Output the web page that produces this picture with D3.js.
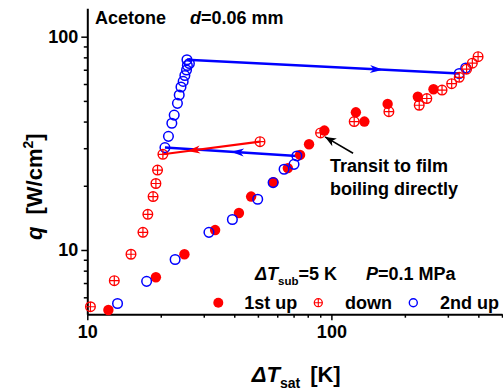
<!DOCTYPE html>
<html>
<head>
<meta charset="utf-8">
<script src="https://cdn.jsdelivr.net/npm/d3@7"></script>
<style>
  html, body { margin: 0; padding: 0; background: #fff; }
  svg { display: block; font-family: 'Liberation Sans', Arial, sans-serif; font-weight: bold; }
</style>
</head>
<body>
<div id="chart"></div>
<script>
// 1st up (filled red)
const firstUpDT = [12.2, 19.1, 25.0, 33.4, 41.8, 46.9, 57.9, 66.3, 74.4, 81.0, 93.6, 126, 136.5, 170, 226, 262];
const firstUpQ  = [5.23, 7.45, 9.55, 12.4, 14.9, 17.8, 20.8, 24.2, 27.9, 31.3, 36.3, 44.2, 40.0, 48.4, 52.3, 56.7];

// down (red crossed circles), in measured order
const downDT = [399, 378, 358, 334, 311, 284, 246, 229, 172, 124, 90.3, 51.0, 20.4, 19.4, 19.1, 18.6, 17.7, 16.9, 15.1, 12.9, 10.3];
const downQ  = [80.6, 75.1, 70.4, 64.5, 60.2, 56.2, 51.3, 47.7, 44.5, 40.0, 35.4, 32.2, 28.1, 23.7, 20.5, 17.8, 14.7, 12.1, 9.55, 7.18, 5.42];

// 2nd up (blue open circles)
const secondUpDT = [13.3, 17.5, 22.9, 31.5, 39.3, 49.9, 57.7, 64.0, 70.3, 72.2, 20.8, 21.5, 22.2, 22.7, 23.4, 23.8, 24.2, 24.7, 25.1, 25.5, 25.7, 26.2, 25.6, 334, 355];
const secondUpQ  = [5.61, 7.13, 9.02, 12.1, 13.9, 17.3, 20.7, 23.9, 25.2, 27.6, 30.2, 34.1, 39.3, 42.9, 48.7, 53.3, 58.1, 61.7, 65.8, 69.8, 73.3, 74.9, 78.0, 67.2, 71.3];

// jumps drawn as arrows: [series, from index, to index, arrow position along line]
const jumps = [
  ['second', 9, 10, 0.5],
  ['second', 22, 23, 0.72],
  ['down', 11, 12, 0.75]
];

// annotation arrow, data coords [dT, q]
const noteFrom = [122.7, 28.4];
const noteTo = [94.2, 33.9];
const noteLines = ['Transit to film', 'boiling directly'];

const xMajor = [10, 100];
const xMinor = [20, 30, 40, 50, 60, 70, 80, 90, 200, 300, 400, 500];
const yMajor = [10, 100];
const yMinor = [6, 7, 8, 9, 20, 30, 40, 50, 60, 70, 80, 90];

const RED = '#ff0000', BLUE = '#0000ff';
const FS = 18;

const svg = d3.select('#chart').append('svg')
  .attr('width', 503)
  .attr('height', 391);

const x = d3.scaleLog().domain([10, 500]).range([87.3, 502]);
const y = d3.scaleLog().domain([5, 136]).range([314.2, 8.2]);

const pts = (dts, qs) => dts.map((d, i) => ({ dt: d, q: qs[i] }));
const series = {
  first: pts(firstUpDT, firstUpQ),
  down: pts(downDT, downQ),
  second: pts(secondUpDT, secondUpQ)
};

// axes
const x0 = y.range()[0];
const xAxisG = svg.append('g').attr('transform', `translate(0,${x0})`);
xAxisG.call(d3.axisBottom(x).tickValues(xMinor).tickSize(3.5).tickSizeOuter(0).tickFormat(''));
xAxisG.append('g').call(d3.axisBottom(x).tickValues(xMajor).tickSize(6).tickSizeOuter(0).tickPadding(5.5).tickFormat(d3.format('d')));

const yAxisG = svg.append('g').attr('transform', `translate(${x.range()[0]},0)`);
yAxisG.call(d3.axisLeft(y).tickValues(yMinor).tickSize(3.5).tickSizeOuter(0).tickFormat(''));
yAxisG.append('g').call(d3.axisLeft(y).tickValues(yMajor).tickSize(6).tickSizeOuter(0).tickPadding(3).tickFormat(d3.format('d')));

svg.selectAll('.domain').attr('stroke', '#000').attr('stroke-width', 2);
svg.selectAll('.tick line').attr('stroke', '#000').attr('stroke-width', 1.5);
svg.selectAll('.tick text')
  .attr('fill', '#000')
  .style('font-family', "'Liberation Sans', Arial, sans-serif")
  .style('font-weight', 'bold')
  .style('font-size', FS + 'px');
// inner axis groups carry their own domain; keep only one
xAxisG.select('g .domain').remove();
yAxisG.select('g .domain').remove();

// arrowhead barb
function barb(g, ax, ay, bx, by, t, color, len, half) {
  const px = ax + (bx - ax) * t, py = ay + (by - ay) * t;
  const ang = Math.atan2(by - ay, bx - ax) * 180 / Math.PI;
  g.append('path')
    .attr('d', `M0,0 L${-len},${-half} L${-len * 0.72},0 L${-len},${half} Z`)
    .attr('transform', `translate(${px},${py}) rotate(${ang})`)
    .attr('fill', color);
}

// jump lines
const lineG = svg.append('g');
jumps.forEach(([s, i, j, t]) => {
  const a = series[s][i], b = series[s][j];
  const color = s === 'down' ? RED : BLUE;
  const ax = x(a.dt), ay = y(a.q), bx = x(b.dt), by = y(b.q);
  lineG.append('line')
    .attr('x1', ax).attr('y1', ay).attr('x2', bx).attr('y2', by)
    .attr('stroke', color)
    .attr('stroke-width', s === 'down' ? 2.2 : 2.5);
  barb(lineG, ax, ay, bx, by, t, color, 13, 4);
});

// markers
function drawFilled(g, data, r) {
  g.selectAll(null).data(data).enter().append('circle')
    .attr('cx', d => x(d.dt)).attr('cy', d => y(d.q))
    .attr('r', r).attr('fill', RED);
}
function drawOpen(g, data, r) {
  g.selectAll(null).data(data).enter().append('circle')
    .attr('cx', d => x(d.dt)).attr('cy', d => y(d.q))
    .attr('r', r).attr('fill', 'none')
    .attr('stroke', BLUE).attr('stroke-width', 1.5);
}
function drawCrossed(g, data, r) {
  const m = g.selectAll(null).data(data).enter().append('g')
    .attr('transform', d => `translate(${x(d.dt)},${y(d.q)})`);
  m.append('circle').attr('r', r).attr('fill', 'none')
    .attr('stroke', RED).attr('stroke-width', 1.4);
  m.append('path').attr('d', `M${-r},0H${r}M0,${-r}V${r}`)
    .attr('stroke', RED).attr('stroke-width', 1.2);
}

drawFilled(svg.append('g'), series.first, 5.2);
drawOpen(svg.append('g'), series.second, 4.8);
drawCrossed(svg.append('g'), series.down, 4.8);

// annotation
const nfx = x(noteFrom[0]), nfy = y(noteFrom[1]);
const ntx = x(noteTo[0]), nty = y(noteTo[1]);
svg.append('line')
  .attr('x1', nfx).attr('y1', nfy).attr('x2', ntx).attr('y2', nty)
  .attr('stroke', '#000').attr('stroke-width', 1.6);
barb(svg, nfx, nfy, ntx, nty, 1, '#000', 11, 4.5);

svg.append('g').selectAll('text').data(noteLines).enter().append('text')
  .attr('x', 330)
  .attr('y', (d, i) => 172 + i * 23)
  .attr('font-size', FS)
  .text(d => d);

// labels in the plot
const t1 = svg.append('text').attr('x', 95).attr('y', 23.5).attr('font-size', FS);
t1.append('tspan').text('Acetone');
t1.append('tspan').attr('x', 190).attr('font-style', 'italic').text('d');
t1.append('tspan').text('=0.06 mm');

const t2 = svg.append('text').attr('x', 255).attr('y', 280).attr('font-size', FS);
t2.append('tspan').attr('font-style', 'italic').text('ΔT');
t2.append('tspan').attr('font-size', 11.5).attr('dy', 5).text('sub');
t2.append('tspan').attr('dy', -5).text('=5 K');
t2.append('tspan').attr('x', 366).attr('font-style', 'italic').text('P');
t2.append('tspan').text('=0.1 MPa');

// legend
const legendItems = [
  { label: '1st up', kind: 'filled', mx: 218.3, tx: 244.3 },
  { label: 'down', kind: 'crossed', mx: 318.3, tx: 345 },
  { label: '2nd up', kind: 'open', mx: 413.3, tx: 440 }
];
const legY = 302.7;
legendItems.forEach(it => {
  if (it.kind === 'filled') {
    svg.append('circle').attr('cx', it.mx).attr('cy', legY).attr('r', 5).attr('fill', RED);
  } else if (it.kind === 'open') {
    svg.append('circle').attr('cx', it.mx).attr('cy', legY).attr('r', 4)
      .attr('fill', 'none').attr('stroke', BLUE).attr('stroke-width', 1.4);
  } else {
    const r = 4;
    svg.append('circle').attr('cx', it.mx).attr('cy', legY).attr('r', r)
      .attr('fill', 'none').attr('stroke', RED).attr('stroke-width', 1.3);
    svg.append('path').attr('d', `M${it.mx - r},${legY}H${it.mx + r}M${it.mx},${legY - r}V${legY + r}`)
      .attr('stroke', RED).attr('stroke-width', 1.1);
  }
  svg.append('text').attr('x', it.tx).attr('y', legY + 6.5).attr('font-size', FS).text(it.label);
});

// axis titles
const xt = svg.append('text').attr('x', 251.7).attr('y', 382).attr('font-size', 22);
xt.append('tspan').attr('font-style', 'italic').text('ΔT');
xt.append('tspan').attr('font-size', 14).attr('dy', 6).text('sat');
xt.append('tspan').attr('dy', -6).attr('dx', 10).text('[K]');

const yt = svg.append('text')
  .attr('transform', 'translate(42,240) rotate(-90)')
  .attr('font-size', 22);
yt.append('tspan').attr('font-style', 'italic').text('q');
yt.append('tspan').attr('dx', 12).text('[W/cm');
yt.append('tspan').attr('font-size', 14).attr('dy', -9).text('2');
yt.append('tspan').attr('dy', 9).text(']');
</script>
</body>
</html>
